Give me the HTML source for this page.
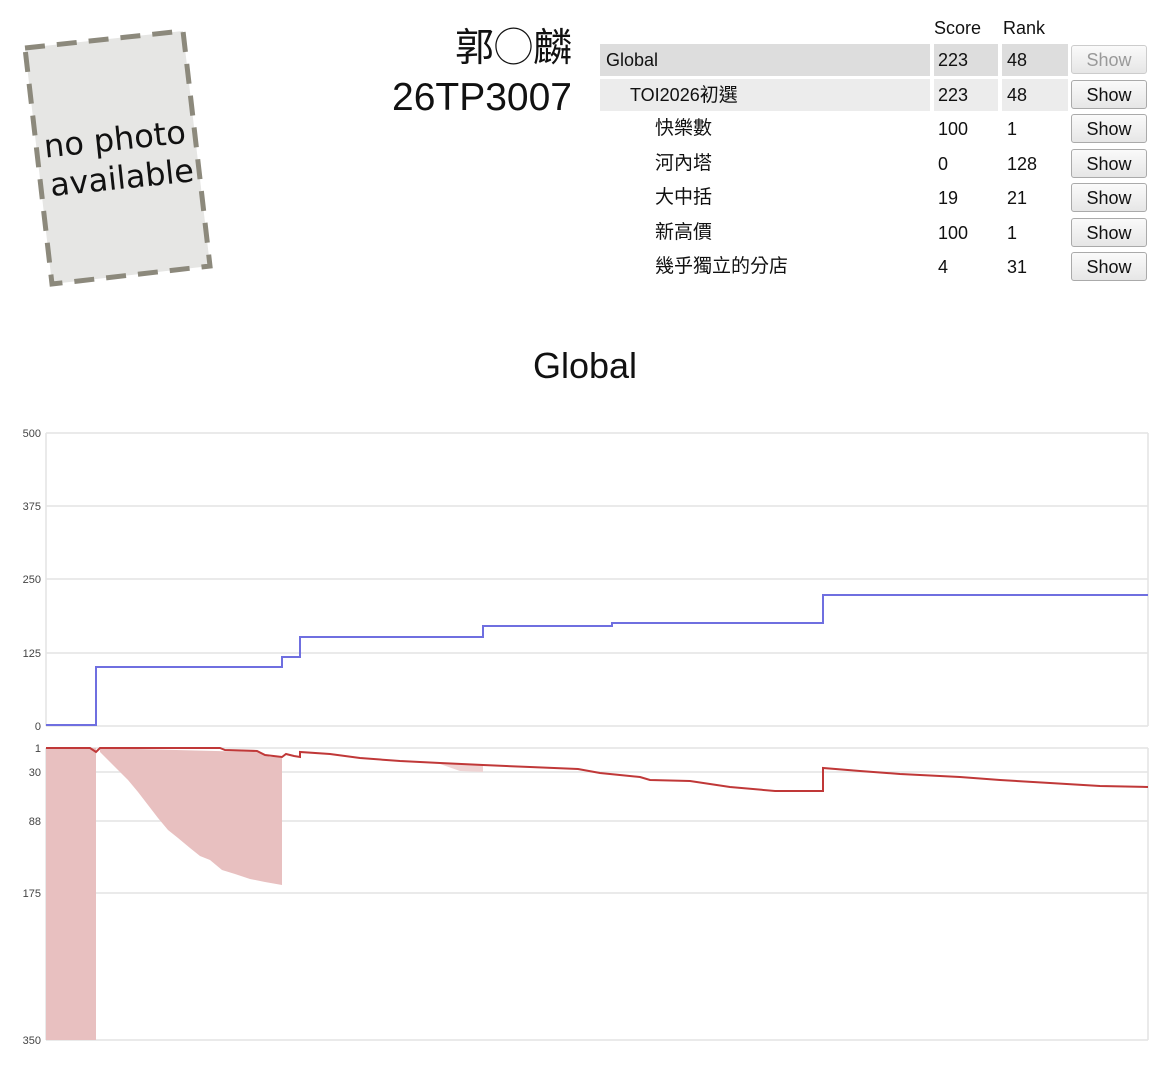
<!DOCTYPE html>
<html><head><meta charset="utf-8">
<style>
html,body{margin:0;padding:0;background:#fff;width:1170px;height:1070px;overflow:hidden;font-family:"Liberation Sans","Noto Sans CJK TC",sans-serif;color:#111}
.abs{position:absolute}
.name{right:598px;font-size:39px;white-space:nowrap}
.cell{position:absolute;font-size:18px;line-height:30px;height:30px}
.cj{font-size:19px}
.btn{position:absolute;left:1071px;width:76px;height:29px;border:1px solid #aaa;border-radius:3px;background:linear-gradient(#fafafa,#e6e6e6);font-size:18px;line-height:29px;text-align:center;box-sizing:border-box}
</style></head><body>
<svg class="abs" style="left:0;top:0" width="240" height="300">
<polygon points="25,48 183,31 210,266 52,284" fill="#e6e6e4" stroke="#8c897c" stroke-width="5" stroke-dasharray="20,12"/>
<g transform="rotate(-6 118 160)" font-family="DejaVu Sans, sans-serif" font-size="32" fill="#111" text-anchor="middle">
<text x="117" y="150">no photo</text><text x="120" y="189">available</text></g>
</svg>
<div class="abs name" style="top:17px">郭◯麟</div>
<div class="abs name" style="top:76px">26TP3007</div>

<div class="cell" style="left:934px;top:13px">Score</div>
<div class="cell" style="left:1003px;top:13px">Rank</div>

<div class="abs" style="left:600px;top:44px;width:330px;height:32px;background:#ddd"></div>
<div class="abs" style="left:934px;top:44px;width:64px;height:32px;background:#ddd"></div>
<div class="abs" style="left:1002px;top:44px;width:66px;height:32px;background:#ddd"></div>
<div class="abs" style="left:600px;top:79px;width:330px;height:32px;background:#ececec"></div>
<div class="abs" style="left:934px;top:79px;width:64px;height:32px;background:#ececec"></div>
<div class="abs" style="left:1002px;top:79px;width:66px;height:32px;background:#ececec"></div>

<div class="cell" style="left:606px;top:45px">Global</div><div class="cell" style="left:938px;top:45px">223</div><div class="cell" style="left:1007px;top:45px">48</div>
<div class="btn" style="top:45px;color:#999;border-color:#ccc">Show</div>
<div class="cell" style="left:630px;top:80px">TOI2026<span class="cj">初選</span></div><div class="cell" style="left:938px;top:80px">223</div><div class="cell" style="left:1007px;top:80px">48</div>
<div class="btn" style="top:80px">Show</div>
<div class="cell cj" style="left:655px;top:114px">快樂數</div><div class="cell" style="left:938px;top:114px">100</div><div class="cell" style="left:1007px;top:114px">1</div>
<div class="btn" style="top:114px">Show</div>
<div class="cell cj" style="left:655px;top:149px">河內塔</div><div class="cell" style="left:938px;top:149px">0</div><div class="cell" style="left:1007px;top:149px">128</div>
<div class="btn" style="top:149px">Show</div>
<div class="cell cj" style="left:655px;top:183px">大中括</div><div class="cell" style="left:938px;top:183px">19</div><div class="cell" style="left:1007px;top:183px">21</div>
<div class="btn" style="top:183px">Show</div>
<div class="cell cj" style="left:655px;top:218px">新高價</div><div class="cell" style="left:938px;top:218px">100</div><div class="cell" style="left:1007px;top:218px">1</div>
<div class="btn" style="top:218px">Show</div>
<div class="cell cj" style="left:655px;top:252px">幾乎獨立的分店</div><div class="cell" style="left:938px;top:252px">4</div><div class="cell" style="left:1007px;top:252px">31</div>
<div class="btn" style="top:252px">Show</div>

<div class="abs" style="left:0;width:1170px;top:345px;text-align:center;font-size:36px">Global</div>

<svg class="abs" style="left:0;top:0" width="1170" height="1070" font-family="Liberation Sans, sans-serif" font-size="11" fill="#444">
<g stroke="#e4e4e4" stroke-width="1.5">
<line x1="46" y1="433" x2="1148" y2="433"/><line x1="46" y1="506" x2="1148" y2="506"/><line x1="46" y1="579" x2="1148" y2="579"/><line x1="46" y1="653" x2="1148" y2="653"/><line x1="46" y1="726" x2="1148" y2="726"/>
<line x1="46" y1="433" x2="46" y2="726"/><line x1="1148" y1="433" x2="1148" y2="726"/>
<line x1="46" y1="748" x2="1148" y2="748"/><line x1="46" y1="772" x2="1148" y2="772"/><line x1="46" y1="821" x2="1148" y2="821"/><line x1="46" y1="893" x2="1148" y2="893"/><line x1="46" y1="1040" x2="1148" y2="1040"/>
<line x1="46" y1="748" x2="46" y2="1040"/><line x1="1148" y1="748" x2="1148" y2="1040"/>
</g>
<g text-anchor="end">
<text x="41" y="437">500</text><text x="41" y="510">375</text><text x="41" y="583">250</text><text x="41" y="657">125</text><text x="41" y="730">0</text>
<text x="41" y="752">1</text><text x="41" y="776">30</text><text x="41" y="825">88</text><text x="41" y="897">175</text><text x="41" y="1044">350</text>
</g>
<polyline fill="none" stroke="#6f6fe0" stroke-width="2" points="46,725 96,725 96,667 282,667 282,657 300,657 300,637 483,637 483,626 612,626 612,623 823,623 823,595 1148,595"/>
<rect x="46" y="748" width="50" height="292" fill="#e8c0c0"/>
<polygon fill="#e8c0c0" points="100,752 108,760 118,770 128,780 138,792 148,805 158,818 168,830 178,838 190,848 200,856 210,860 222,870 235,874 250,879 265,882 282,885 282,757 270,757 257,752 100,748"/>
<polygon fill="#efd4d4" points="440,764 483,764 483,772 460,771"/>
<polyline fill="none" stroke="#c03838" stroke-width="2" points="46,748 90,748 96,752 100,748 220,748 225,750 257,751 265,755 282,757 286,754 294,756 300,757 300,752 330,754 360,758 400,761 440,763 483,765 530,767 578,769 600,773 640,777 650,780 690,781 730,787 775,791 823,791 823,768 860,771 900,774 960,777 1000,780 1050,783 1100,786 1148,787"/>
</svg>
</body></html>
